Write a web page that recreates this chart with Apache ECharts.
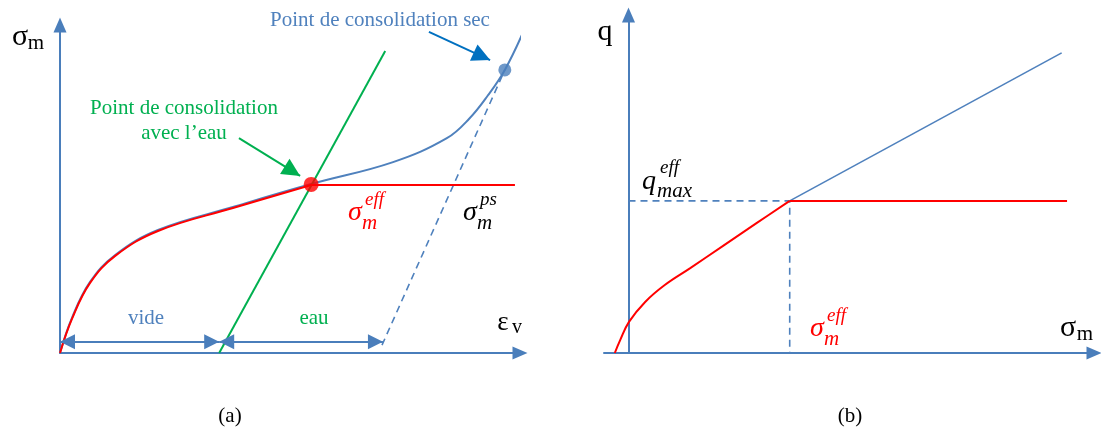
<!DOCTYPE html>
<html>
<head>
<meta charset="utf-8">
<script src="https://cdn.jsdelivr.net/npm/echarts@6/dist/echarts.min.js"></script>
<style>
html, body { margin: 0; padding: 0; background: #fff; }
#main { width: 1101px; height: 432px; }
</style>
</head>
<body>
<div id="main"></div>
<script>
// (a) sigma_m vs eps_v, schematic units 0..100
var epsDry = [0, 2.6, 6.5, 12.0, 21.3, 37.6, 54.6, 72.4, 84.1, 89.0, 93.0, 96.7, 100.9];
var sigDry = [0, 10.7, 21.6, 29.9, 37.5, 44.5, 51.5, 58.2, 65.5, 71.5, 78.5, 86.3, 98.5];
var epsEff = [0, 2.6, 6.5, 12.0, 21.3, 37.6, 54.6];
var sigEff = [0, 10.4, 21.3, 29.6, 37.2, 44.2, 51.2];
var effEndA = 98.9;
var waterLine = [[34.6, 0], [70.7, 92.1]];
var dryUnload = [[70.0, 2.4], [96.7, 86.3]];
var pointWater = [54.6, 51.4];
var pointDry = [96.7, 86.3];
var spanVide = [0, 34.6];
var spanEau = [34.6, 70.2];
var spanLevel = 3.4;
var pointerWater = [[38.9, 65.5], [52.2, 54.0]];
var pointerDry = [[80.2, 97.9], [93.5, 89.3]];

// (b) q vs sigma_m
var sigB = [-2.8, -1.7, 0.1, 3.4, 7.4, 12.6, 19.3, 26.2, 32.9];
var qEff = [0, 3.8, 9.2, 15.1, 20.1, 25.1, 31.7, 38.5, 45.0];
var effEndB = 89.5;
var critLine = [[32.9, 45.0], [88.4, 88.8]];

var BLUE = '#4f81bd', AXIS = '#4a7ebb', GREEN = '#00b050', RED = '#ff0000';
var SERIF = '"Liberation Serif", "Times New Roman", serif';

function zip(xs, ys) {
    return xs.map(function (x, i) { return [x, ys[i]]; });
}

function axisPair(idx, xmin, xmax, ymin, ymax) {
    var line = {
        show: true,
        onZero: true,
        symbol: ['none', 'triangle'],
        symbolSize: [13, 15],
        lineStyle: { color: AXIS, width: 2 }
    };
    var base = {
        gridIndex: idx, type: 'value',
        axisLine: line,
        axisTick: { show: false },
        axisLabel: { show: false },
        splitLine: { show: false }
    };
    return {
        x: Object.assign({}, base, { min: xmin, max: xmax }),
        y: Object.assign({}, base, { min: ymin, max: ymax })
    };
}

var axA = axisPair(0, 0, 100, 0, 100);
var axB = axisPair(1, -5, 95, 0, 100);

function txt(x, y, text, size, color, italic, align) {
    return {
        type: 'text', x: x, y: y, silent: true,
        style: {
            text: text,
            font: (italic ? 'italic ' : '') + size + 'px ' + SERIF,
            fill: color || '#000',
            align: align || 'center',
            verticalAlign: 'middle'
        }
    };
}

// sigma with subscript m and a superscript
function sigmaSub(x, y, sup, color) {
    return [
        txt(x, y, 'σ', 28, color, true),
        txt(x + 7, y + 10, 'm', 21, color, true, 'left'),
        txt(x + 10, y - 13, sup, 19, color, true, 'left')
    ];
}

function line(xi, yi, data, color, width, extra) {
    return Object.assign({
        type: 'line', xAxisIndex: xi, yAxisIndex: yi,
        data: data, showSymbol: false, symbol: 'none', clip: false,
        lineStyle: { color: color, width: width },
        animation: false, z: 3
    }, extra || {});
}

function pointer(xi, yi, seg, color, size, both) {
    return {
        type: 'line', xAxisIndex: xi, yAxisIndex: yi, data: [], animation: false,
        markLine: {
            silent: true, animation: false,
            symbol: both ? ['triangle', 'triangle'] : ['none', 'triangle'],
            symbolSize: size,
            symbolOffset: [[0, size / 2], [0, size / 2]],
            label: { show: false },
            lineStyle: { color: color, width: 2, type: 'solid' },
            data: [[{ coord: seg[0] }, { coord: seg[1] }]]
        }
    };
}

var chart = echarts.init(document.getElementById('main'));

var graphics = [
    // panel (a)
    txt(20, 37, 'σ', 30, '#000'),
    txt(36, 43, 'm', 21, '#000'),
    txt(503, 323, 'ε', 27, '#000'),
    txt(517, 328, 'v', 20, '#000'),
    txt(380, 20, 'Point de consolidation sec', 21, BLUE),
    txt(184, 108, 'Point de consolidation', 21, GREEN),
    txt(184, 133, 'avec l’eau', 21, GREEN),
    txt(146, 318, 'vide', 21, BLUE),
    txt(314, 318, 'eau', 21, GREEN),
    txt(230, 416, '(a)', 21, '#000'),
    // panel (b)
    txt(605, 32, 'q', 30, '#000'),
    txt(1068, 328, 'σ', 30, '#000'),
    txt(1085, 334, 'm', 21, '#000'),
    txt(850, 416, '(b)', 21, '#000'),
    txt(649, 182, 'q', 28, '#000', true),
    txt(657, 191, 'max', 21, '#000', true, 'left'),
    txt(660, 168, 'eff', 19, '#000', true, 'left')
].concat(sigmaSub(355, 213, 'eff', RED))
 .concat(sigmaSub(470, 213, 'ps', '#000'))
 .concat(sigmaSub(817, 329, 'eff', RED));

chart.setOption({
    animation: false,
    grid: [
        { left: 60, top: 25, width: 460, height: 328 },
        { left: 604, top: 15, width: 490, height: 338 }
    ],
    xAxis: [axA.x, axB.x],
    yAxis: [axA.y, axB.y],
    graphic: graphics,
    series: [
        // (a)
        line(0, 0, zip(epsDry, sigDry), BLUE, 2, { smooth: 0.4 }),
        line(0, 0, zip(epsEff, sigEff), RED, 2, { smooth: 0.4, z: 4 }),
        line(0, 0, [[pointWater[0], sigEff[sigEff.length - 1]], [effEndA, sigEff[sigEff.length - 1]]], RED, 2, { z: 4 }),
        line(0, 0, waterLine, GREEN, 2),
        line(0, 0, dryUnload, BLUE, 1.6, { lineStyle: { color: BLUE, width: 1.6, type: [7, 5] } }),
        {
            type: 'scatter', xAxisIndex: 0, yAxisIndex: 0, animation: false, z: 6,
            symbolSize: 15, itemStyle: { color: RED }, data: [pointWater]
        },
        {
            type: 'scatter', xAxisIndex: 0, yAxisIndex: 0, animation: false, z: 6,
            symbolSize: 13, itemStyle: { color: '#4a7ebb' }, data: [pointDry]
        },
        pointer(0, 0, [[spanVide[0], spanLevel], [spanVide[1], spanLevel]], AXIS, 15, true),
        pointer(0, 0, [[spanEau[0], spanLevel], [spanEau[1], spanLevel]], AXIS, 15, true),
        pointer(0, 0, pointerWater, GREEN, 18),
        pointer(0, 0, pointerDry, '#0070c0', 18),
        // (b)
        line(1, 1, zip(sigB, qEff), RED, 2, { smooth: 0.4, z: 4 }),
        line(1, 1, [[sigB[sigB.length - 1], qEff[qEff.length - 1]], [effEndB, qEff[qEff.length - 1]]], RED, 2, { z: 4 }),
        line(1, 1, critLine, BLUE, 1.6),
        line(1, 1, [[0, qEff[qEff.length - 1]], [sigB[sigB.length - 1], qEff[qEff.length - 1]], [sigB[sigB.length - 1], 0]],
            BLUE, 1.6, { lineStyle: { color: BLUE, width: 1.6, type: [7, 5] } })
    ]
});
</script>
</body>
</html>
